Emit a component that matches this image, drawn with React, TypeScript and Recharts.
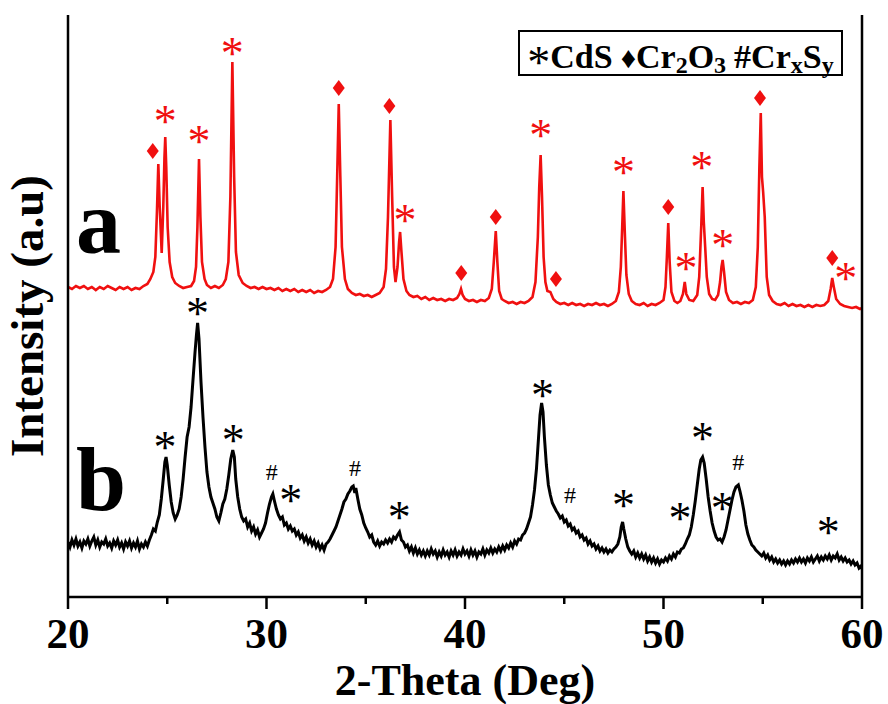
import React from 'react';
import { ComposedChart, Line, Scatter, XAxis, YAxis, Legend } from 'recharts';

// 2-theta (deg), intensity (arb. units) -- sample a (red)
const patternA: [number, number][] = [
  [20.0,310],[20.2,308],[20.4,311],[20.6,309],[20.8,311],[21.0,308],[21.2,310],[21.4,307],[21.6,310],[21.8,308],
  [22.0,311],[22.2,309],[22.4,307],[22.6,310],[22.8,308],[23.0,310],[23.2,307],[23.4,309],[23.6,308],[23.8,311],
  [24.0,313],[24.15,318],[24.3,325],[24.4,340],[24.48,385],[24.55,433],[24.62,390],[24.72,344],[24.8,390],[24.86,440],
  [24.9,460],[24.95,430],[25.02,370],[25.12,335],[25.25,320],[25.4,314],[25.6,311],[25.8,309],[26.0,310],[26.2,311],
  [26.35,316],[26.45,330],[26.52,370],[26.6,438],[26.67,380],[26.75,335],[26.88,318],[27.0,312],[27.2,309],[27.4,311],
  [27.6,309],[27.8,312],[27.95,318],[28.08,335],[28.18,400],[28.28,535],[28.37,420],[28.46,345],[28.6,322],[28.8,314],
  [29.0,311],[29.2,309],[29.4,310],[29.6,308],[29.8,310],[30.0,308],[30.2,309],[30.4,307],[30.6,309],[30.8,306],
  [31.0,308],[31.2,306],[31.4,308],[31.6,305],[31.8,307],[32.0,305],[32.2,307],[32.4,304],[32.6,306],[32.8,305],
  [33.0,307],[33.2,310],[33.35,318],[33.48,350],[33.56,420],[33.64,493],[33.72,420],[33.8,350],[33.95,318],[34.1,308],
  [34.3,304],[34.5,302],[34.7,303],[34.9,301],[35.1,302],[35.3,300],[35.5,302],[35.7,304],[35.9,310],[36.02,328],
  [36.12,380],[36.24,477],[36.33,400],[36.42,330],[36.5,315],[36.6,330],[36.68,355],[36.73,365],[36.8,345],[36.9,318],
  [37.05,306],[37.2,302],[37.4,300],[37.6,301],[37.8,298],[38.0,300],[38.2,297],[38.4,299],[38.6,297],[38.8,298],
  [39.0,296],[39.2,298],[39.4,297],[39.6,299],[39.72,303],[39.8,308],[39.88,302],[40.0,298],[40.2,296],[40.4,297],
  [40.6,295],[40.8,297],[41.0,296],[41.2,299],[41.35,308],[41.45,335],[41.55,366],[41.63,335],[41.72,306],[41.85,298],
  [42.0,296],[42.2,294],[42.4,295],[42.6,293],[42.8,295],[43.0,294],[43.2,296],[43.4,300],[43.55,315],[43.67,360],
  [43.74,410],[43.81,442],[43.88,400],[43.96,340],[44.05,315],[44.15,306],[44.3,305],[44.45,298],[44.6,295],[44.8,293],
  [45.0,294],[45.2,292],[45.4,294],[45.6,292],[45.8,293],[46.0,291],[46.2,293],[46.4,292],[46.6,294],[46.8,292],
  [47.0,293],[47.2,291],[47.4,293],[47.6,296],[47.75,305],[47.85,330],[47.92,370],[47.98,406],[48.05,365],[48.13,322],
  [48.25,303],[48.4,296],[48.6,293],[48.8,292],[49.0,294],[49.2,291],[49.4,293],[49.6,292],[49.8,294],[50.0,297],
  [50.1,310],[50.17,340],[50.24,374],[50.31,335],[50.4,305],[50.55,296],[50.7,294],[50.85,296],[50.98,303],[51.07,315],
  [51.15,303],[51.3,297],[51.5,296],[51.7,302],[51.8,320],[51.9,370],[51.97,410],[52.03,375],[52.1,350],[52.18,320],
  [52.3,303],[52.45,298],[52.6,297],[52.75,302],[52.85,315],[52.92,330],[52.98,337],[53.05,325],[53.15,305],[53.3,297],
  [53.5,294],[53.7,295],[53.9,293],[54.1,295],[54.3,294],[54.5,297],[54.65,310],[54.75,350],[54.83,430],[54.9,484],
  [54.96,420],[55.02,405],[55.1,380],[55.2,320],[55.32,302],[55.5,296],[55.7,293],[55.9,292],[56.1,294],[56.3,291],
  [56.5,293],[56.7,291],[56.9,292],[57.1,290],[57.3,292],[57.5,290],[57.7,292],[57.9,291],[58.1,292],[58.3,296],
  [58.42,308],[58.5,319],[58.58,310],[58.7,298],[58.9,293],[59.1,291],[59.3,290],[59.5,289],[59.7,290],[59.9,288],
  [60.0,289],
];

// sample b (black)
const patternB: [number, number][] = [
  [20.0,55],[20.1,50],[20.2,57],[20.3,52],[20.4,58],[20.5,51],[20.6,55],[20.7,49],[20.8,56],[20.9,53],
  [21.0,58],[21.1,51],[21.2,56],[21.3,60],[21.4,52],[21.5,57],[21.6,50],[21.7,55],[21.8,53],[21.9,58],
  [22.0,51],[22.1,54],[22.2,49],[22.3,56],[22.4,52],[22.5,57],[22.6,50],[22.7,54],[22.8,48],[22.9,55],
  [23.0,51],[23.1,56],[23.2,49],[23.3,54],[23.4,50],[23.5,56],[23.6,48],[23.7,53],[23.8,50],[23.9,55],
  [24.0,51],[24.1,57],[24.2,62],[24.3,68],[24.4,66],[24.5,75],[24.6,82],[24.7,98],[24.8,118],[24.88,135],
  [24.94,140],[25.0,132],[25.1,112],[25.2,95],[25.3,84],[25.4,78],[25.5,82],[25.6,88],[25.7,100],[25.8,118],
  [25.9,140],[26.0,160],[26.1,170],[26.2,190],[26.3,218],[26.4,245],[26.47,262],[26.53,274],[26.6,258],[26.7,215],
  [26.8,180],[26.9,150],[27.0,125],[27.1,110],[27.2,100],[27.3,94],[27.4,88],[27.5,80],[27.6,76],[27.7,84],
  [27.8,93],[27.9,98],[28.0,108],[28.1,122],[28.2,138],[28.3,147],[28.38,140],[28.45,118],[28.55,100],[28.65,88],
  [28.75,80],[28.85,76],[28.95,78],[29.05,70],[29.15,74],[29.25,66],[29.35,70],[29.45,63],[29.55,67],[29.65,60],
  [29.75,64],[29.85,68],[29.95,74],[30.05,84],[30.15,93],[30.25,100],[30.32,103],[30.4,96],[30.5,88],[30.6,82],
  [30.7,78],[30.8,80],[30.9,72],[31.0,74],[31.1,68],[31.2,71],[31.3,66],[31.4,68],[31.5,62],[31.6,65],
  [31.7,59],[31.8,62],[31.9,56],[32.0,60],[32.1,54],[32.2,58],[32.3,52],[32.4,56],[32.5,50],[32.6,54],
  [32.7,48],[32.8,52],[32.9,47],[33.0,53],[33.1,55],[33.2,58],[33.3,62],[33.4,66],[33.5,70],[33.6,76],
  [33.7,82],[33.8,88],[33.9,95],[34.0,98],[34.1,103],[34.2,106],[34.3,110],[34.37,111],[34.45,104],[34.5,109],
  [34.6,98],[34.7,88],[34.8,82],[34.9,74],[35.0,69],[35.1,65],[35.2,60],[35.3,62],[35.4,55],[35.5,52],
  [35.6,56],[35.7,51],[35.8,55],[35.9,53],[36.0,57],[36.1,54],[36.2,58],[36.3,55],[36.4,60],[36.5,58],
  [36.6,62],[36.7,65],[36.8,57],[36.9,55],[37.0,50],[37.1,52],[37.2,46],[37.3,50],[37.4,44],[37.5,49],
  [37.6,43],[37.7,47],[37.8,42],[37.9,46],[38.0,41],[38.1,46],[38.2,42],[38.3,48],[38.4,43],[38.5,46],
  [38.6,40],[38.7,45],[38.8,41],[38.9,47],[39.0,42],[39.1,45],[39.2,40],[39.3,46],[39.4,42],[39.5,47],
  [39.6,41],[39.7,45],[39.8,42],[39.9,48],[40.0,43],[40.1,46],[40.2,41],[40.3,47],[40.4,42],[40.5,46],
  [40.6,40],[40.7,45],[40.8,43],[40.9,48],[41.0,42],[41.1,47],[41.2,44],[41.3,49],[41.4,44],[41.5,48],
  [41.6,45],[41.7,50],[41.8,46],[41.9,51],[42.0,47],[42.1,52],[42.2,49],[42.3,54],[42.4,50],[42.5,56],
  [42.6,53],[42.7,58],[42.8,57],[42.9,62],[43.0,64],[43.1,68],[43.2,74],[43.3,80],[43.4,92],[43.5,107],
  [43.6,128],[43.7,158],[43.78,182],[43.86,194],[43.93,185],[44.0,160],[44.1,132],[44.2,112],[44.3,102],[44.4,94],
  [44.5,90],[44.6,86],[44.7,83],[44.8,79],[44.9,81],[45.0,75],[45.1,77],[45.2,71],[45.3,73],[45.4,67],
  [45.5,69],[45.6,64],[45.7,66],[45.8,60],[45.9,62],[46.0,57],[46.1,59],[46.2,53],[46.3,56],[46.4,51],
  [46.5,53],[46.6,48],[46.7,51],[46.8,46],[46.9,49],[47.0,45],[47.1,48],[47.2,44],[47.3,47],[47.4,45],
  [47.5,48],[47.6,50],[47.7,53],[47.8,60],[47.87,70],[47.94,75],[48.0,68],[48.1,58],[48.2,50],[48.3,46],
  [48.4,43],[48.5,46],[48.6,40],[48.7,44],[48.8,39],[48.9,43],[49.0,38],[49.1,42],[49.2,36],[49.3,40],
  [49.4,35],[49.5,39],[49.6,34],[49.7,38],[49.8,33],[49.9,37],[50.0,35],[50.1,39],[50.2,36],[50.3,41],
  [50.4,38],[50.5,43],[50.6,40],[50.7,45],[50.8,44],[50.9,48],[51.0,49],[51.1,53],[51.2,58],[51.3,62],
  [51.4,70],[51.5,82],[51.6,96],[51.7,112],[51.8,128],[51.88,137],[51.97,140],[52.05,134],[52.15,118],[52.25,100],
  [52.35,86],[52.45,74],[52.55,66],[52.65,60],[52.75,57],[52.85,58],[52.95,55],[53.05,60],[53.15,67],[53.25,77],
  [53.35,87],[53.45,97],[53.55,105],[53.65,110],[53.77,112],[53.85,106],[53.95,97],[54.05,86],[54.15,72],[54.25,63],
  [54.35,57],[54.45,52],[54.55,50],[54.65,47],[54.75,45],[54.85,43],[54.95,41],[55.05,44],[55.15,39],[55.25,42],
  [55.35,37],[55.45,40],[55.55,35],[55.65,38],[55.75,34],[55.85,37],[55.95,33],[56.05,36],[56.15,32],[56.25,36],
  [56.35,33],[56.45,37],[56.55,34],[56.65,38],[56.75,35],[56.85,39],[56.95,35],[57.05,38],[57.15,34],[57.25,39],
  [57.35,36],[57.45,40],[57.55,35],[57.65,38],[57.75,41],[57.85,36],[57.95,40],[58.05,37],[58.15,41],[58.25,38],
  [58.35,42],[58.45,37],[58.55,41],[58.65,39],[58.75,43],[58.85,37],[58.95,40],[59.05,36],[59.15,39],[59.25,35],
  [59.35,37],[59.45,33],[59.55,36],[59.65,32],[59.75,34],[59.85,29],[59.95,31],[60.0,28],
];

// phase markers [2theta, height]
const cdsMarksA: [number, number][] = [
  [24.9,481],[26.6,461],[28.28,549],[36.98,382],[43.81,467],[47.98,430],[51.13,334],[51.93,435],[52.98,357],[59.18,324],
];
const cr2o3MarksA: [number, number][] = [
  [24.27,446],[33.64,509],[36.19,491],[39.81,324],[41.55,380],[44.58,318],[50.24,390],[54.86,499],[58.5,339],
];
const cdsMarksB: [number, number][] = [
  [24.89,155],[26.53,289],[28.33,162],[31.22,102],[36.69,85],[43.9,207],[47.98,97],[50.83,84],[51.97,164],[52.96,94],[58.3,70],
];
const crxsyMarksB: [number, number][] = [
  [30.26,125],[34.46,129],[45.29,102],[53.77,135],
];
const panelLabels: { x: number; y: number; text: string }[] = [
  { x: 20.4, y: 344, text: 'a' },
  { x: 20.4, y: 87, text: 'b' },
];

const xTicks = [20, 25, 30, 35, 40, 45, 50, 55, 60];
const xLabel = '2-Theta (Deg)';
const yLabel = 'Intensity (a.u)';

type Part = { t: string; sub?: boolean };
const legendItems: { symbol: string; parts: Part[] }[] = [
  { symbol: '*', parts: [{ t: 'CdS' }] },
  { symbol: '\u2666', parts: [{ t: 'Cr' }, { t: '2', sub: true }, { t: 'O' }, { t: '3', sub: true }] },
  { symbol: '#', parts: [{ t: 'Cr' }, { t: 'x', sub: true }, { t: 'S' }, { t: 'y', sub: true }] },
];

const toPts = (arr: [number, number][]) => arr.map(([x, y]) => ({ x, y }));
const dataA = toPts(patternA);
const dataB = toPts(patternB);

const SERIF = '"Liberation Serif", "Times New Roman", serif';
const RED = '#f01010';

const StarShape = (color: string) => (p: any) => (
  <text x={p.cx} y={p.cy + 21} textAnchor="middle" fontFamily={SERIF} fontSize={46} fill={color}>*</text>
);
const DiamondShape = (p: any) => (
  <path d={`M${p.cx},${p.cy - 8}L${p.cx + 6},${p.cy}L${p.cx},${p.cy + 8}L${p.cx - 6},${p.cy}Z`} fill={RED} />
);
const HashShape = (p: any) => (
  <text x={p.cx} y={p.cy + 8} textAnchor="middle" fontFamily={SERIF} fontSize={24} fill="#000">#</text>
);
const PanelShape = (p: any) => (
  <text x={p.cx} y={p.cy} fontFamily={SERIF} fontWeight="bold" fontSize={90} fill="#000">{p.payload.text}</text>
);

const XTick = (p: any) => {
  const v = p.payload.value;
  const major = v % 10 === 0;
  return (
    <g>
      <line x1={p.x} x2={p.x} y1={p.y} y2={p.y + (major ? 12 : 7)} stroke="#000" strokeWidth={2.5} />
      {major && (
        <text x={p.x} y={p.y + 51} textAnchor="middle" fontFamily={SERIF} fontWeight="bold" fontSize={43} fill="#000">{v}</text>
      )}
    </g>
  );
};

const LegendBox = () => (
  <div style={{
    border: '2px solid #000', boxSizing: 'border-box', width: 325, height: 46, fontFamily: SERIF,
    fontWeight: 'bold', fontSize: 34, lineHeight: '42px', textAlign: 'center', whiteSpace: 'nowrap', background: '#fff',
  }}>
    {legendItems.map((it, i) => (
      <span key={i} style={{ marginLeft: i ? 8 : 0 }}>
        <span style={it.symbol === '*' ? { fontSize: 46, position: 'relative', top: 10, fontWeight: 'normal' } : { fontSize: it.symbol === '#' ? 34 : 30 }}>{it.symbol}</span>
        {it.parts.map((pt, j) => pt.sub
          ? <sub key={j} style={{ fontSize: 24, verticalAlign: 'baseline', position: 'relative', top: 5 }}>{pt.t}</sub>
          : <span key={j}>{pt.t}</span>)}
      </span>
    ))}
  </div>
);

const YTitle = () => {
  const cx = 43;
  const cy = 316;
  return (
    <text x={cx} y={cy} transform={`rotate(-90, ${cx}, ${cy})`} textAnchor="middle" fontFamily={SERIF} fontWeight="bold" fontSize={47} fill="#000">{yLabel}</text>
  );
};

export default function App() {
  return (
    <div style={{ position: 'absolute', left: 0, top: 0, width: 888, height: 704, background: '#fff' }}>
      <ComposedChart width={888} height={704} margin={{ top: 15, right: 25, bottom: 0, left: 67 }}>
        <XAxis
          type="number" dataKey="x" domain={[20, 60]} ticks={xTicks} allowDataOverflow height={107}
          axisLine={{ stroke: '#000', strokeWidth: 2.5 }} tickLine={false} tickSize={0} tickMargin={0} tick={XTick}
          interval={0}
          label={(props: any) => {
            const vb = props.viewBox || { x: 68, y: 597, width: 794 };
            return (
              <text x={vb.x + vb.width / 2} y={vb.y + 98} textAnchor="middle" fontFamily={SERIF} fontWeight="bold" fontSize={44} fill="#000">{xLabel}</text>
            );
          }}
        />
        <XAxis xAxisId="top" orientation="top" type="number" domain={[20, 60]} height={0} tick={false} tickLine={false}
          axisLine={{ stroke: '#000', strokeWidth: 2.5 }} />
        <YAxis
          type="number" dataKey="y" domain={[0, 582]} width={1} tick={false} tickLine={false} allowDataOverflow
          axisLine={{ stroke: '#000', strokeWidth: 2.5 }}
          label={<YTitle />}
        />
        <YAxis yAxisId="right" orientation="right" type="number" domain={[0, 582]} width={1} tick={false} tickLine={false}
          axisLine={{ stroke: '#000', strokeWidth: 2.5 }} />
        <Line data={dataA} dataKey="y" type="linear" stroke={RED} strokeWidth={2.6} dot={false} isAnimationActive={false} />
        <Line data={dataB} dataKey="y" type="linear" stroke="#000" strokeWidth={3} dot={false} isAnimationActive={false} />
        <Scatter data={toPts(cdsMarksA)} dataKey="y" shape={StarShape(RED)} isAnimationActive={false} />
        <Scatter data={toPts(cr2o3MarksA)} dataKey="y" shape={DiamondShape} isAnimationActive={false} />
        <Scatter data={toPts(cdsMarksB)} dataKey="y" shape={StarShape('#000')} isAnimationActive={false} />
        <Scatter data={toPts(crxsyMarksB)} dataKey="y" shape={HashShape} isAnimationActive={false} />
        <Scatter data={panelLabels} dataKey="y" shape={PanelShape} isAnimationActive={false} />
        <Legend verticalAlign="middle" layout="horizontal" content={LegendBox}
          wrapperStyle={{ position: 'absolute', left: 518, top: 30, width: 325, height: 46 }} />
      </ComposedChart>
    </div>
  );
}
